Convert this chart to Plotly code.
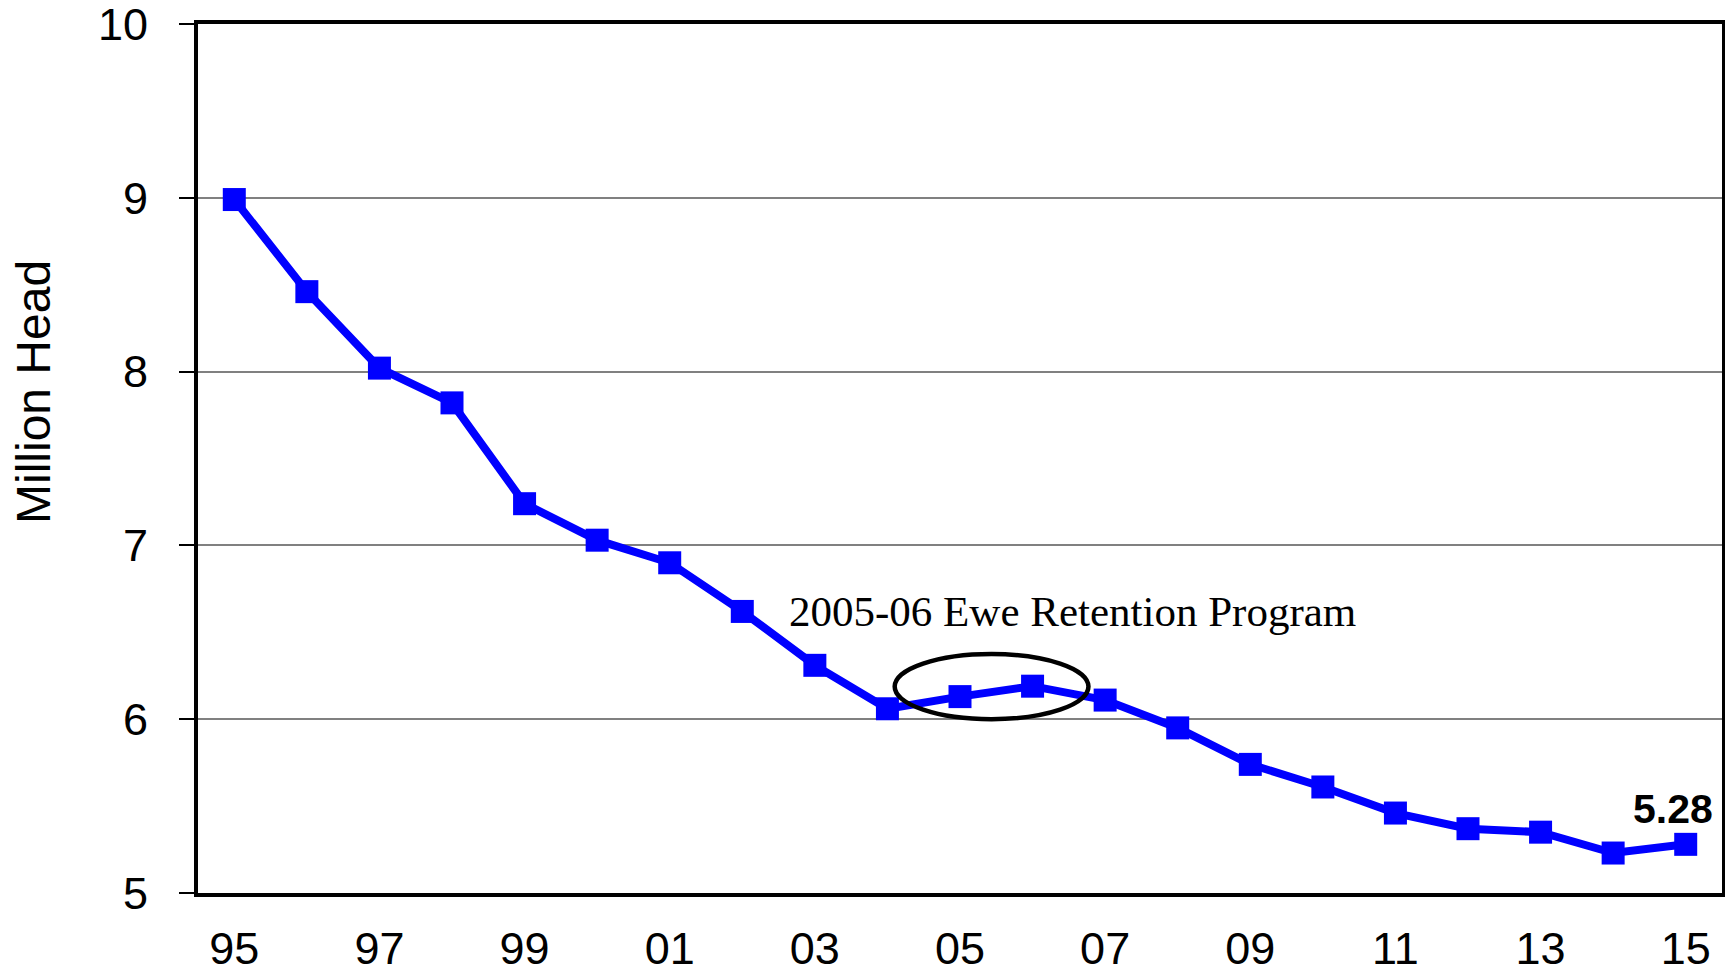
import plotly.graph_objects as go

years = list(range(1995, 2016))
values = [8.99, 8.46, 8.02, 7.82, 7.24, 7.03, 6.90, 6.62, 6.31, 6.06,
          6.13, 6.19, 6.11, 5.95, 5.74, 5.61, 5.46, 5.37, 5.35, 5.23, 5.28]
tick_years = list(range(1995, 2016, 2))
tick_labels = ["95", "97", "99", "01", "03", "05", "07", "09", "11", "13", "15"]
y_ticks = [5, 6, 7, 8, 9, 10]
annot_text = "2005-06 Ewe Retention Program"
last_label = "5.28"
y_title = "Million Head"

fig = go.Figure()
fig.add_trace(go.Scatter(
    x=years, y=values, mode="lines+markers",
    line=dict(color="#0000FF", width=8),
    marker=dict(symbol="square", size=23, color="#0000FF"),
    showlegend=False, hoverinfo="x+y",
))

fig.add_shape(type="circle", xref="x", yref="y",
              x0=2004.1, x1=2006.77, y0=6.0, y1=6.375,
              line=dict(color="black", width=4.5))

fig.add_annotation(x=2006.55, y=6.62, xref="x", yref="y", text=annot_text,
                   showarrow=False,
                   font=dict(family="Liberation Serif", size=43, color="black"))
fig.add_annotation(x=years[-1], y=values[-1], xref="x", yref="y", text="<b>%s</b>" % last_label,
                   showarrow=False, xshift=-13, yshift=35,
                   font=dict(family="Liberation Sans", size=41, color="black"))
fig.add_annotation(x=-0.108, y=0.577, xref="paper", yref="paper", text=y_title,
                   showarrow=False, textangle=-90, xanchor="center", yanchor="middle",
                   font=dict(family="Liberation Sans", size=48, color="black"))

# page body has an 8px default margin, so the figure is sized to fit the window
fig.update_layout(
    width=1725, height=964,
    margin=dict(l=190, r=11, t=16, b=79),
    paper_bgcolor="white", plot_bgcolor="white",
    font=dict(family="Liberation Sans", color="black"),
)
fig.update_xaxes(
    range=[1994.5, 2015.5], tickvals=tick_years, ticktext=tick_labels,
    showgrid=False, zeroline=False, automargin=False,
    showline=True, linecolor="black", linewidth=4, mirror=True,
    ticks="", ticklabelstandoff=13, ticklabeloverflow="allow",
    tickfont=dict(family="Liberation Sans", size=45, color="black"),
)
fig.update_yaxes(
    range=[5, 10], tickvals=y_ticks, automargin=False,
    showgrid=True, gridcolor="#808080", gridwidth=1.5, zeroline=False,
    showline=True, linecolor="black", linewidth=4, mirror=True,
    ticks="outside", ticklen=15, tickwidth=2, tickcolor="black",
    ticklabelstandoff=22, ticklabeloverflow="allow",
    tickfont=dict(family="Liberation Sans", size=45, color="black"),
)

fig.write_html("out.html")
